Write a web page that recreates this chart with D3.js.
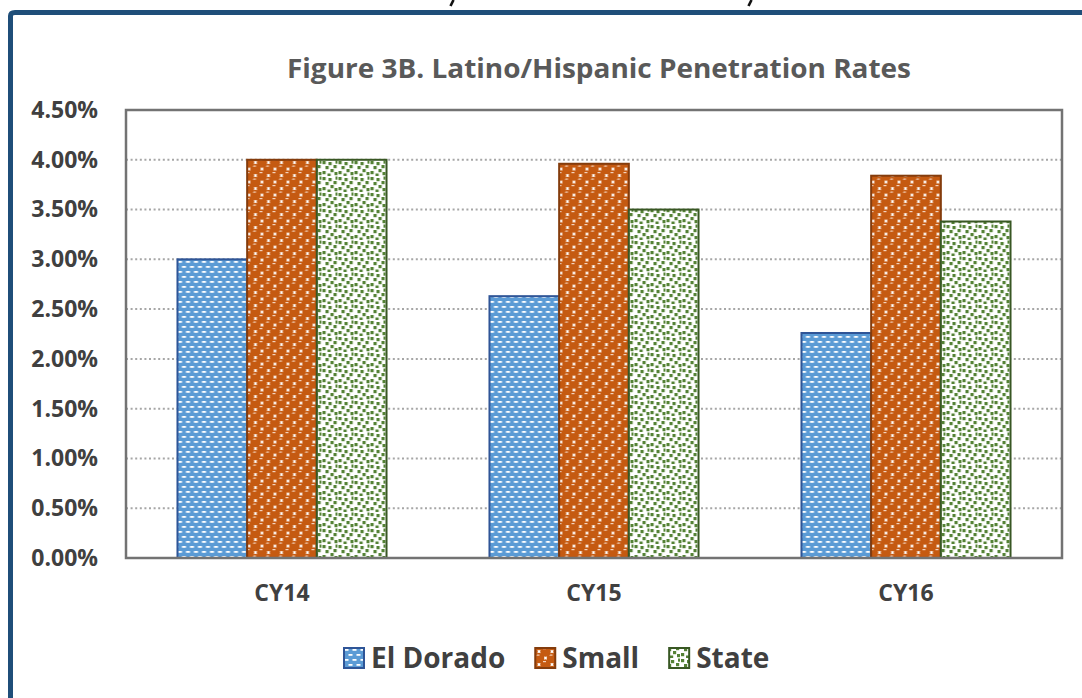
<!DOCTYPE html>
<html>
<head>
<meta charset="utf-8">
<script src="https://cdn.jsdelivr.net/npm/d3@7"></script>
<style>
  body { margin: 0; background: #fff; }
  svg { display: block; }
</style>
</head>
<body>
<div id="chart"></div>
<script>
const categories = ["CY14", "CY15", "CY16"];
const seriesNames = ["El Dorado", "Small", "State"];
const elDorado = [3.0, 2.63, 2.26];
const small = [4.0, 3.96, 3.84];
const state = [4.0, 3.5, 3.38];
const yTicks = [0, 0.5, 1, 1.5, 2, 2.5, 3, 3.5, 4, 4.5];
const chartTitle = "Figure 3B. Latino/Hispanic Penetration Rates";

const seriesValues = [elDorado, small, state];

const drawChart = () => {
  let dimensions = {
    width: 1082,
    height: 698,
    margin: { top: 110, right: 20, bottom: 140, left: 126 },
  };
  const plotRight = 1062;
  const plotBottom = 558;

  const svg = d3
    .select("#chart")
    .append("svg")
    .attr("width", dimensions.width)
    .attr("height", dimensions.height);

  // patterns
  const defs = svg.append("defs");

  const blue = defs
    .append("pattern")
    .attr("id", "pat-blue")
    .attr("patternUnits", "userSpaceOnUse")
    .attr("width", 8)
    .attr("height", 10);
  blue.append("rect").attr("width", 8).attr("height", 10).attr("fill", "#5b9bd5");
  blue.append("rect").attr("x", 0.5).attr("y", 1).attr("width", 4).attr("height", 1.8).attr("fill", "#fff");
  blue.append("rect").attr("x", 4.5).attr("y", 6).attr("width", 3.5).attr("height", 1.8).attr("fill", "#fff");
  blue.append("rect").attr("x", 0).attr("y", 6).attr("width", 0.5).attr("height", 1.8).attr("fill", "#fff");

  const orange = defs
    .append("pattern")
    .attr("id", "pat-orange")
    .attr("patternUnits", "userSpaceOnUse")
    .attr("width", 13)
    .attr("height", 13);
  orange.append("rect").attr("width", 13).attr("height", 13).attr("fill", "#fff");
  [[0, 0], [13, 0], [0, 13], [13, 13], [6.5, 6.5]].forEach(([cx, cy]) => {
    orange.append("circle").attr("cx", cx).attr("cy", cy).attr("r", 5.3).attr("fill", "#c55a11");
    orange
      .append("rect")
      .attr("x", cx - 2.5)
      .attr("y", cy - 3.5)
      .attr("width", 3)
      .attr("height", 1.2)
      .attr("fill", "#f4d3bd");
  });

  const green = defs
    .append("pattern")
    .attr("id", "pat-green")
    .attr("patternUnits", "userSpaceOnUse")
    .attr("width", 16)
    .attr("height", 16);
  green.append("rect").attr("width", 16).attr("height", 16).attr("fill", "#fff");
  [[1, 1], [7, 2], [12, 5], [4, 6], [9, 9], [1, 11], [13, 12], [6, 13.5], [14, 0.5]].forEach(([x, y]) => {
    green
      .append("rect")
      .attr("x", x)
      .attr("y", y)
      .attr("width", 3.2)
      .attr("height", 3.2)
      .attr("fill", "#548235");
  });

  const fills = ["url(#pat-blue)", "url(#pat-orange)", "url(#pat-green)"];
  const strokes = ["#2f5597", "#843c0c", "#385723"];

  // frame around the chart
  svg
    .append("path")
    .attr("d", "M10.5,698 L10.5,16 Q10.5,12.5 15,12.5 L1082,12.5")
    .attr("fill", "none")
    .attr("stroke", "#1f4e79")
    .attr("stroke-width", 5);

  // glyph fragments of the line cut off above the frame
  svg
    .append("g")
    .selectAll("path")
    .data([452, 750])
    .join("path")
    .attr("d", (d) => `M${d + 1.5},0 L${d - 1.5},6`)
    .attr("stroke", "#111")
    .attr("stroke-width", 2.6);

  // title
  svg
    .append("text")
    .attr("x", 599)
    .attr("y", 78)
    .attr("text-anchor", "middle")
    .attr("fill", "#595959")
    .style("font-family", "Open Sans")
    .style("font-weight", 700)
    .style("font-size", "26px")
    .attr("textLength", 624)
    .attr("lengthAdjust", "spacingAndGlyphs")
    .text(chartTitle);

  // scales
  const x0 = d3
    .scaleBand()
    .domain(categories)
    .range([dimensions.margin.left, plotRight])
    .paddingInner(0.33)
    .paddingOuter(0.165);

  const x1 = d3
    .scaleBand()
    .domain(seriesNames)
    .range([0, x0.bandwidth()]);

  const yScale = d3
    .scaleLinear()
    .domain([0, 4.5])
    .range([plotBottom, dimensions.margin.top]);

  // gridlines
  svg
    .append("g")
    .selectAll("line")
    .data(yTicks.filter((d) => d > 0 && d < 4.5))
    .join("line")
    .attr("x1", dimensions.margin.left)
    .attr("x2", plotRight)
    .attr("y1", (d) => yScale(d))
    .attr("y2", (d) => yScale(d))
    .attr("stroke", "#a6a6a6")
    .attr("stroke-width", 2)
    .attr("stroke-dasharray", "2,2.6");

  // bars
  const rows = categories.map((c, i) => ({
    category: c,
    values: seriesNames.map((s, j) => ({ series: s, idx: j, value: seriesValues[j][i] })),
  }));

  svg
    .append("g")
    .selectAll("g")
    .data(rows)
    .join("g")
    .attr("transform", (d) => `translate(${x0(d.category)},0)`)
    .selectAll("rect")
    .data((d) => d.values)
    .join("rect")
    .attr("x", (d) => x1(d.series))
    .attr("y", (d) => yScale(d.value))
    .attr("width", x1.bandwidth())
    .attr("height", (d) => yScale(0) - yScale(d.value))
    .attr("fill", (d) => fills[d.idx])
    .attr("stroke", (d) => strokes[d.idx])
    .attr("stroke-width", 2);

  // plot frame
  svg
    .append("rect")
    .attr("x", dimensions.margin.left)
    .attr("y", dimensions.margin.top)
    .attr("width", plotRight - dimensions.margin.left)
    .attr("height", plotBottom - dimensions.margin.top)
    .attr("fill", "none")
    .attr("stroke", "#737373")
    .attr("stroke-width", 2.5);

  // y axis
  const yAxis = d3
    .axisLeft(yScale)
    .tickValues(yTicks)
    .tickSize(0)
    .tickPadding(28)
    .tickFormat((d) => d.toFixed(2) + "%");
  const yAxisGroup = svg
    .append("g")
    .attr("transform", `translate(${dimensions.margin.left},0)`)
    .call(yAxis);
  yAxisGroup.select(".domain").remove();
  yAxisGroup
    .selectAll("text")
    .attr("fill", "#404040")
    .style("font-family", "Open Sans")
    .style("font-weight", 700)
    .style("font-size", "23px");

  // x axis
  const xAxis = d3.axisBottom(x0).tickSize(0).tickPadding(27);
  const xAxisGroup = svg
    .append("g")
    .attr("transform", `translate(0,${plotBottom})`)
    .call(xAxis);
  xAxisGroup.select(".domain").remove();
  xAxisGroup
    .selectAll("text")
    .attr("fill", "#404040")
    .style("font-family", "Open Sans")
    .style("font-weight", 700)
    .style("font-size", "23px");

  // legend
  const legend = svg.append("g").attr("transform", "translate(344,658)");
  let lx = 0;
  seriesNames.forEach((name, i) => {
    legend
      .append("rect")
      .attr("x", lx)
      .attr("y", -10)
      .attr("width", 20)
      .attr("height", 20)
      .attr("fill", fills[i])
      .attr("stroke", strokes[i])
      .attr("stroke-width", 2);
    const t = legend
      .append("text")
      .attr("x", lx + 27)
      .attr("y", 10)
      .attr("fill", "#404040")
      .style("font-family", "Open Sans")
      .style("font-weight", 700)
      .style("font-size", "28px")
      .text(name);
    lx += 27 + t.node().getComputedTextLength() + 30;
  });
};

drawChart();
</script>
</body>
</html>
